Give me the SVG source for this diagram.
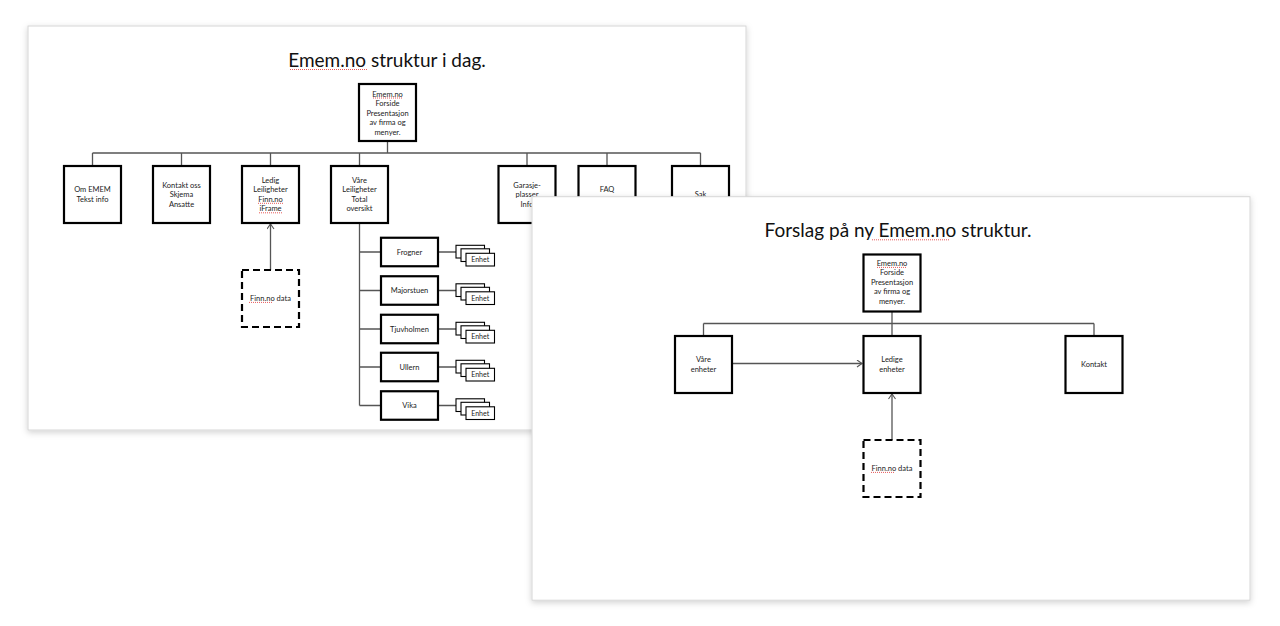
<svg xmlns="http://www.w3.org/2000/svg" width="1280" height="626" viewBox="0 0 1280 626">
<defs>
<filter id="sh" x="-5%" y="-5%" width="110%" height="115%">
<feDropShadow dx="0" dy="2" stdDeviation="3" flood-color="#000" flood-opacity="0.18"/>
</filter>
<marker id="oa" markerUnits="userSpaceOnUse" markerWidth="10" markerHeight="10" refX="6" refY="4" orient="auto">
<path d="M1,0.5 L6,4 L1,7.5" fill="none" stroke="#555" stroke-width="1.1"/>
</marker>
<style>
.slide{fill:#fff;stroke:#d6d6d6;stroke-width:1}
.title{font-family:Lato,"Liberation Sans",sans-serif;font-size:19px;fill:#111;text-anchor:middle}
.t{font-family:Lato,"Liberation Sans",sans-serif;font-size:7.5px;fill:#222;text-anchor:middle}
.ts{font-family:Lato,"Liberation Sans",sans-serif;font-size:7px;fill:#222;text-anchor:middle}
.box{fill:#fff;stroke:#000;stroke-width:2.2}
.sbox{fill:#fff;stroke:#000;stroke-width:1.1}
.dash{fill:#fff;stroke:#000;stroke-width:2.2;stroke-dasharray:7 4}
.con{fill:none;stroke:#555;stroke-width:1.3}
.sq{fill:none;stroke:#e03030;stroke-width:0.8;stroke-dasharray:1 1}
</style>
</defs>
<rect width="1280" height="626" fill="#fff"/>

<!-- LEFT SLIDE -->
<g id="slide-left">
<rect class="slide" x="28" y="26" width="718" height="404" filter="url(#sh)"/>
<text class="title" x="387" y="66.7">Emem.no struktur i dag.</text>
<path class="sq" d="M290,69.5 H368"/>
<g id="connectors-left">
<path class="con" d="M387.5,141 V153 M92.5,153 H700.5 M92.5,153 V166 M181.5,153 V166 M270.5,153 V166 M359.5,153 V166 M527,153 V166 M607,153 V166 M700.5,153 V166"/>
<path class="con" d="M270.5,270 V224" marker-end="url(#oa)"/>
<path class="con" d="M359.5,223 V405.5 M359.5,252 H381 M359.5,290.5 H381 M359.5,329 H381 M359.5,367 H381 M359.5,405.5 H381"/>
<path class="con" d="M438,252 H456 M438,290.5 H456 M438,329 H456 M438,367 H456 M438,405.5 H456"/>
</g>
<g id="l-forside">
<rect class="box" x="359" y="84" width="57" height="57"/>
<text class="t" x="387.5" y="96.6">Emem.no</text>
<text class="t" x="387.5" y="106.1">Forside</text>
<text class="t" x="387.5" y="115.6">Presentasjon</text>
<text class="t" x="387.5" y="125.1">av firma og</text>
<text class="t" x="387.5" y="134.6">menyer.</text>
<path class="sq" d="M373,98 H402"/>
</g>
<g id="l-om">
<rect class="box" x="64" y="166" width="57" height="57"/>
<text class="t" x="92.5" y="192.1">Om EMEM</text>
<text class="t" x="92.5" y="201.6">Tekst info</text>
</g>
<g id="l-kontakt">
<rect class="box" x="153" y="166" width="57" height="57"/>
<text class="t" x="181.5" y="187.6">Kontakt oss</text>
<text class="t" x="181.5" y="197.1">Skjema</text>
<text class="t" x="181.5" y="206.6">Ansatte</text>
</g>
<g id="l-ledig">
<rect class="box" x="242" y="166" width="57" height="57"/>
<text class="t" x="270.5" y="182.8">Ledig</text>
<text class="t" x="270.5" y="192.3">Leiligheter</text>
<text class="t" x="270.5" y="201.8">Finn.no</text>
<text class="t" x="270.5" y="211.3">iFrame</text>
<path class="sq" d="M258,203.3 H283 M259,212.8 H282"/>
</g>
<g id="l-vare">
<rect class="box" x="331" y="166" width="57" height="57"/>
<text class="t" x="359.5" y="182.8">Våre</text>
<text class="t" x="359.5" y="192.3">Leiligheter</text>
<text class="t" x="359.5" y="201.8">Total</text>
<text class="t" x="359.5" y="211.3">oversikt</text>
</g>
<g id="l-garasje">
<rect class="box" x="498.5" y="166" width="57" height="57"/>
<text class="t" x="527" y="187.6">Garasje-</text>
<text class="t" x="527" y="197.1">plasser</text>
<text class="t" x="527" y="206.6">Info</text>
</g>
<g id="l-faq">
<rect class="box" x="578.5" y="166" width="57" height="57"/>
<text class="t" x="607" y="192.3">FAQ</text>
</g>
<g id="l-sak">
<rect class="box" x="672" y="166" width="57" height="57"/>
<text class="t" x="700.5" y="196.6">Sak</text>
</g>
<g id="l-finn">
<rect class="dash" x="242" y="270" width="57" height="57"/>
<text class="t" x="270.5" y="300.9">Finn.no data</text>
<path class="sq" d="M249,302.4 H273"/>
</g>
<g id="l-frogner">
<rect class="box" x="381" y="237.75" width="57" height="28.5"/>
<text class="t" x="409.5" y="254.6">Frogner</text>
</g>
<g id="l-majorstuen">
<rect class="box" x="381" y="276.25" width="57" height="28.5"/>
<text class="t" x="409.5" y="293.1">Majorstuen</text>
</g>
<g id="l-tjuvholmen">
<rect class="box" x="381" y="314.75" width="57" height="28.5"/>
<text class="t" x="409.5" y="331.6">Tjuvholmen</text>
</g>
<g id="l-ullern">
<rect class="box" x="381" y="352.75" width="57" height="28.5"/>
<text class="t" x="409.5" y="369.6">Ullern</text>
</g>
<g id="l-vika">
<rect class="box" x="381" y="391.25" width="57" height="28.5"/>
<text class="t" x="409.5" y="408.1">Vika</text>
</g>
<g id="l-enhet-frogner">
<rect class="sbox" x="456" y="245.3" width="28.5" height="12.7"/>
<rect class="sbox" x="461" y="248.8" width="28.5" height="12.7"/>
<rect class="sbox" x="466" y="253.3" width="28.5" height="12.7"/>
<text class="ts" x="480.2" y="262.2">Enhet</text>
</g>
<g id="l-enhet-majorstuen">
<rect class="sbox" x="456" y="283.8" width="28.5" height="12.7"/>
<rect class="sbox" x="461" y="287.3" width="28.5" height="12.7"/>
<rect class="sbox" x="466" y="291.8" width="28.5" height="12.7"/>
<text class="ts" x="480.2" y="300.7">Enhet</text>
</g>
<g id="l-enhet-tjuvholmen">
<rect class="sbox" x="456" y="322.3" width="28.5" height="12.7"/>
<rect class="sbox" x="461" y="325.8" width="28.5" height="12.7"/>
<rect class="sbox" x="466" y="330.3" width="28.5" height="12.7"/>
<text class="ts" x="480.2" y="339.2">Enhet</text>
</g>
<g id="l-enhet-ullern">
<rect class="sbox" x="456" y="360.3" width="28.5" height="12.7"/>
<rect class="sbox" x="461" y="363.8" width="28.5" height="12.7"/>
<rect class="sbox" x="466" y="368.3" width="28.5" height="12.7"/>
<text class="ts" x="480.2" y="377.2">Enhet</text>
</g>
<g id="l-enhet-vika">
<rect class="sbox" x="456" y="398.8" width="28.5" height="12.7"/>
<rect class="sbox" x="461" y="402.3" width="28.5" height="12.7"/>
<rect class="sbox" x="466" y="406.8" width="28.5" height="12.7"/>
<text class="ts" x="480.2" y="415.7">Enhet</text>
</g>
</g>

<!-- RIGHT SLIDE -->
<g id="slide-right">
<rect class="slide" x="532" y="196.7" width="718" height="403.5" filter="url(#sh)"/>
<text class="title" x="898" y="237">Forslag på ny Emem.no struktur.</text>
<path class="sq" d="M872,239.8 H950"/>
<g id="connectors-right">
<path class="con" d="M892,311.5 V323.5 M703.5,323.5 H1094 M703.5,323.5 V336 M892,323.5 V336 M1094,323.5 V336"/>
<path class="con" d="M732,363.5 H862" marker-end="url(#oa)"/>
<path class="con" d="M892,440 V394" marker-end="url(#oa)"/>
</g>
<g id="r-forside">
<rect class="box" x="863.5" y="254.5" width="57" height="57"/>
<text class="t" x="892" y="265.9">Emem.no</text>
<text class="t" x="892" y="275.4">Forside</text>
<text class="t" x="892" y="284.9">Presentasjon</text>
<text class="t" x="892" y="294.4">av firma og</text>
<text class="t" x="892" y="303.9">menyer.</text>
<path class="sq" d="M877,267.4 H906"/>
</g>
<g id="r-vare">
<rect class="box" x="675" y="336" width="57" height="57"/>
<text class="t" x="703.5" y="361.9">Våre</text>
<text class="t" x="703.5" y="371.6">enheter</text>
</g>
<g id="r-ledige">
<rect class="box" x="863.5" y="336" width="57" height="57"/>
<text class="t" x="892" y="361.9">Ledige</text>
<text class="t" x="892" y="371.6">enheter</text>
</g>
<g id="r-kontakt">
<rect class="box" x="1065.5" y="336" width="57" height="57"/>
<text class="t" x="1094" y="366.6">Kontakt</text>
</g>
<g id="r-finn">
<rect class="dash" x="863.5" y="440" width="57" height="57"/>
<text class="t" x="892" y="470.9">Finn.no data</text>
<path class="sq" d="M871,472.4 H895"/>
</g>
</g>
</svg>
